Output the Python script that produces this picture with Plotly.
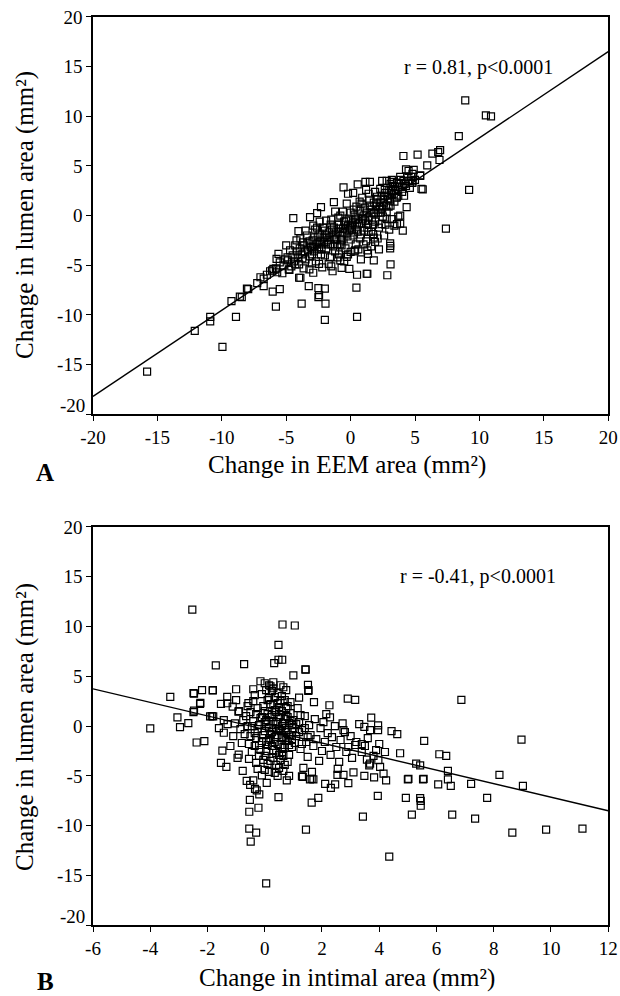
import plotly.graph_objects as go

# panel A: change in EEM area vs change in lumen area (mm2)
a_outliers = [
    (8.9, 11.6), (10.5, 10.1), (10.9, 10.0), (8.4, 8.0), (9.2, 2.6), (7.4, -1.3),
    (6.95, 6.6), (6.8, 6.4), (6.35, 6.25), (5.2, 6.15), (4.1, 6.0), (6.9, 5.6),
    (5.95, 5.05), (5.4, 4.05), (4.8, 3.45), (5.5, 2.7), (5.6, 2.65), (4.35, 0.85),
    (3.85, 0.0), (4.05, -1.5), (3.07, -2.8), (3.07, -3.05), (3.07, -3.3), (3.1, -4.9),
    (2.85, -6.0), (1.25, -5.85), (0.5, -5.95), (0.45, -7.25), (0.5, -10.2), (-2.0, -10.5),
    (-1.95, -8.85), (-2.45, -8.0), (-2.5, -8.2), (-2.5, -7.3), (-2.0, -7.35), (-3.25, -7.1),
    (-3.8, -8.85), (-5.8, -9.15), (-6.05, -7.65), (-5.5, -7.4), (-8.9, -10.2), (-9.95, -13.2),
    (-10.9, -10.2), (-10.9, -10.65), (-12.1, -11.6), (-15.8, -15.7), (-9.25, -8.6), (-8.45, -8.2),
    (-7.95, -7.4), (-7.25, -6.8), (-6.75, -7.1), (-6.75, -6.35), (-6.5, -5.95), (-6.25, -5.6),
    (-4.0, -6.25), (-2.9, -5.75), (-4.75, -5.45), (-5.7, -5.7), (-4.45, -0.25), (-3.15, -0.15),
    (-2.6, 0.25), (-2.3, 0.85), (-1.3, 1.35), (-0.55, 2.85), (-0.2, 2.2), (0.55, 3.15),
    (1.15, 3.4), (1.5, 3.4), (2.45, 3.5), (3.2, 3.6), (3.6, 1.85), (1.8, -4.5),
    (1.35, -3.85), (1.3, -5.85), (-0.1, -5.35), (-0.7, -5.25), (-1.5, -5.1), (-2.45, -4.85),
    (-3.9, -6.25), (-3.65, -5.3), (-4.05, -1.55), (-4.2, -2.5), (-5.6, -3.85), (-5.75, -4.35),
    (-4.85, -4.5), (-7.0, -6.2), (-8.05, -7.35), (-8.6, -8.15), (-6.0, -5.35), (-0.8, -4.5),
    (-1.7, -4.85), (-0.3, -4.15), (0.0, -3.65), (0.35, -3.5), (-0.7, -3.0), (1.9, -2.65),
    (1.75, -1.85), (1.4, -1.65), (2.4, -0.85), (2.8, -0.35), (3.2, -0.35), (3.6, -0.85),
    (4.8, 3.3), (4.3, 4.65), (5.4, 4.0), (3.7, -0.1), (3.85, -0.8),
]
a_core = [
    (-5.2, -5.0), (-4.9, -4.2), (-4.6, -5.1), (-4.4, -4.6), (-4.2, -3.6), (-4.0, -4.9),
    (-3.8, -3.9), (-3.6, -3.0), (-3.5, -4.4), (-3.3, -3.5), (-3.2, -2.6), (-3.0, -3.9),
    (-2.9, -3.1), (-2.8, -2.2), (-2.7, -4.6), (-2.6, -3.4), (-2.5, -2.7), (-2.4, -1.8),
    (-2.3, -3.9), (-2.2, -2.9), (-2.1, -2.2), (-2.0, -1.5), (-1.9, -3.4), (-1.8, -2.5),
    (-1.7, -1.7), (-1.6, -4.2), (-1.5, -2.9), (-1.4, -2.0), (-1.3, -1.2), (-1.2, -3.6),
    (-1.1, -2.4), (-1.0, -1.6), (-0.9, -0.9), (-0.8, -2.9), (-0.7, -2.0), (-0.6, -1.3),
    (-0.5, -0.6), (-0.4, -3.3), (-0.3, -1.8), (-0.2, -1.0), (-0.1, -0.3), (0.0, -2.4),
    (0.1, -1.4), (0.2, -0.7), (0.3, 0.1), (0.4, -2.9), (0.5, -1.1), (0.6, -0.3),
    (0.7, 0.5), (0.8, -1.9), (0.9, -0.8), (1.0, 0.0), (1.1, 0.8), (1.2, -2.6),
    (1.3, -1.2), (1.4, -0.2), (1.5, 1.0), (1.6, -1.6), (1.7, 0.3), (1.8, 1.3),
    (1.9, -0.6), (2.0, 0.6), (2.1, 1.6), (2.2, -1.2), (2.3, 0.9), (2.4, 2.0),
    (2.5, -0.1), (2.6, 1.3), (2.7, 2.3), (2.8, 0.4), (2.9, 1.7), (3.0, 2.6),
    (3.1, 1.0), (3.2, 2.1), (3.3, 3.0), (3.4, 1.4), (3.5, 2.5), (3.6, 3.3),
    (3.7, 2.0), (3.8, 2.9), (3.9, 3.6), (4.0, 2.4), (4.2, 3.2), (4.4, 3.9),
    (4.6, 2.8), (4.8, 4.2), (5.0, 3.6),
    (-4.7, -3.5), (-4.1, -4.2), (-3.7, -2.7), (-3.4, -2.0), (-3.1, -3.2), (-2.75, -1.4),
    (-2.45, -3.2), (-2.15, -1.2), (-1.85, -2.0), (-1.55, -0.9), (-1.25, -2.4), (-0.95, -0.2),
    (-0.65, -2.4), (-0.35, -0.5), (-0.05, -1.2), (0.25, 0.6), (0.55, -1.6), (0.85, 1.2),
    (1.15, -0.5), (1.45, 1.6), (1.75, -0.9), (2.05, 1.9), (2.35, 0.3), (2.65, 2.6),
    (2.95, 0.9), (3.25, 3.4), (3.55, 1.8), (3.85, 3.9), (4.15, 2.0), (4.5, 4.5),
    (4.9, 4.6), (-0.6, 0.4), (-1.9, -0.5), (0.3, -3.6), (1.6, -3.1), (-0.9, -3.9),
    (2.1, -2.3), (0.9, 1.8), (1.9, 2.4), (-2.9, -1.0), (-3.9, -2.3), (-5.5, -4.7),
    (-5.8, -5.3), (-5.0, -3.0), (-3.2, -5.4), (-2.2, -5.2), (-1.4, -5.6), (-0.5, -4.6),
    (0.8, -4.4), (1.3, -3.5), (2.6, -2.0), (3.0, -1.4), (0.2, 2.3), (-1.2, 0.4),
    (-0.3, 1.2), (1.2, 2.6), (2.8, 3.5), (-2.4, -0.6), (-4.3, -3.0), (-5.3, -5.8),
    (-6.1, -5.5),
    (-4.5, -4.0), (-4.3, -4.9), (-3.95, -3.3), (-3.75, -4.3), (-3.55, -3.6), (-3.35, -2.8),
    (-3.15, -4.1), (-2.95, -2.5), (-2.85, -3.6), (-2.65, -2.9), (-2.55, -2.1), (-2.35, -2.6),
    (-2.25, -3.4), (-2.05, -2.7), (-1.95, -1.9), (-1.75, -2.9), (-1.65, -2.2), (-1.45, -1.4),
    (-1.35, -3.1), (-1.15, -1.8), (-1.05, -2.9), (-0.85, -1.3), (-0.75, -2.5), (-0.55, -1.7),
    (-0.45, -0.9), (-0.25, -2.1), (-0.15, -1.5), (0.05, -0.9), (0.15, -2.0), (0.35, -0.4),
    (0.45, -1.4), (0.65, -0.8), (0.75, -2.3), (0.95, -0.3), (1.05, -1.5), (1.25, 0.3),
    (1.35, -0.8), (1.55, 0.6), (1.65, -0.4), (1.85, 0.2), (1.95, 1.0), (2.15, 0.3),
    (2.25, 1.3), (2.45, 0.7), (2.55, 1.7), (2.75, 1.0), (2.85, 2.0), (3.05, 1.5),
    (3.15, 2.5), (3.35, 2.2), (3.45, 2.9), (3.65, 2.6), (3.75, 3.3), (3.95, 2.9),
    (4.1, 3.5), (4.3, 3.0), (4.55, 3.5), (4.7, 3.9), (-5.1, -4.4), (-4.8, -5.4),
    (-1.0, -4.2), (-0.2, -3.9), (0.6, -3.4), (1.0, -2.9), (-2.0, -4.0), (-3.0, -4.8),
    (0.0, 0.3), (-1.5, -0.4), (0.7, 1.4), (1.4, 2.2), (2.3, 2.7), (3.1, 3.2),
    (-2.6, -1.2), (-3.5, -1.5), (-0.8, 0.0), (0.45, 0.9), (1.8, -2.2), (2.2, -3.4),
    (3.4, -1.0), (2.7, -0.9),
]
a_fit_x = [-20, 20]
a_fit_y = [-18.2, 16.5]

# panel B: change in intimal area vs change in lumen area (mm2)
b_outliers = [
    (-2.53, 11.7), (-1.71, 6.1), (-0.72, 6.23), (-4.0, -0.24), (-3.3, 2.93), (-3.05, 0.87),
    (-2.96, -0.1), (-2.67, 0.3), (-2.47, 3.26), (-2.19, 3.6), (-2.25, 2.32), (-2.47, 1.55),
    (-1.81, 3.6), (-1.0, 3.7), (-1.31, 2.93), (-1.53, 2.22), (-1.31, 2.29), (-1.12, 1.95),
    (-1.91, 0.98), (-1.8, 0.98), (-1.43, 0.6), (-1.43, -0.67), (-2.38, -1.65), (-2.11, -1.52),
    (-1.48, -2.46), (-1.53, -3.7), (-1.34, -4.1), (-0.91, -2.86), (-0.77, -4.5), (-0.63, -5.5),
    (-0.51, -5.9), (-0.52, -7.4), (-0.54, -8.6), (-0.54, -10.3), (-0.3, -10.7), (-0.49, -11.6),
    (0.05, -15.8), (-0.22, -8.2), (-0.28, -6.46), (-0.19, -6.86), (-0.4, -5.45), (-0.1, -4.95),
    (0.07, -5.7), (-1.04, 0.27), (0.62, 10.2), (1.05, 10.1), (0.48, 8.15), (0.33, 6.33),
    (0.48, 6.66), (0.61, 6.66), (1.0, 5.1), (1.42, 5.7), (1.51, 4.14), (1.53, 3.6),
    (1.2, 2.86), (1.72, 2.4), (-1.82, 3.57), (-2.49, 3.3), (-2.26, 2.22), (-2.49, 1.41),
    (-1.85, 1.0), (-0.92, 1.45), (-0.57, 2.3), (6.87, 2.63), (8.97, -1.35), (8.2, -4.9),
    (9.02, -6.0), (7.77, -7.2), (7.21, -5.8), (6.4, -4.5), (6.4, -5.35), (6.5, -6.0),
    (6.1, -2.83), (6.34, -3.0), (6.06, -5.86), (5.57, -1.48), (5.53, -5.35), (5.29, -3.77),
    (5.43, -3.94), (5.0, -5.35), (4.73, -2.73), (4.93, -7.2), (5.43, -7.24), (4.43, -0.5),
    (4.63, -0.8), (3.96, 0.07), (3.96, -0.4), (3.72, 0.84), (3.48, -0.07), (3.68, -0.4),
    (2.9, 2.76), (3.16, 2.63), (1.43, 5.66), (1.52, 3.54), (2.26, 2.09), (2.28, 0.88),
    (2.72, 0.27), (2.75, -0.4), (3.39, -1.82), (3.89, -2.42), (3.97, -3.43), (4.03, -4.1),
    (4.15, -4.78), (4.24, -5.45), (3.68, -3.77), (3.48, -5.0), (3.82, -5.15), (3.1, -4.65),
    (2.92, -5.72), (2.54, -4.9), (2.75, -4.9), (2.11, -5.8), (2.31, -6.2), (2.46, -5.86),
    (3.95, -7.0), (1.7, -5.35), (1.58, -5.35), (1.33, -5.1), (1.87, -7.2), (3.39, -2.6),
    (3.57, -3.36), (3.65, -3.94), (2.92, -2.1), (3.16, -1.9), (5.14, -8.9), (5.45, -7.5),
    (5.45, -8.0), (3.43, -9.1), (1.64, -7.68), (0.48, -7.14), (-0.34, -6.3), (0.77, -5.45),
    (1.3, -5.05), (1.64, -5.3), (5.02, -5.3), (5.55, -5.3), (4.35, -13.1), (1.44, -10.4),
    (6.55, -8.9), (7.35, -9.3), (8.65, -10.7), (9.83, -10.4), (11.1, -10.3),
]
b_core = [
    (-0.5, -1.0), (-0.4, 0.5), (-0.35, -2.0), (-0.3, 1.2), (-0.25, -0.3), (-0.2, -3.0),
    (-0.15, 0.8), (-0.1, -1.5), (-0.05, 2.0), (0.0, -0.5), (0.0, 1.5), (0.05, -2.5),
    (0.1, 0.2), (0.1, -3.8), (0.15, -1.2), (0.15, 2.8), (0.2, -0.8), (0.2, 0.9),
    (0.25, -2.0), (0.25, 3.5), (0.3, -0.2), (0.3, -3.2), (0.35, 1.6), (0.35, -1.6),
    (0.4, 0.4), (0.4, -2.7), (0.45, 2.3), (0.45, -0.9), (0.5, -0.3), (0.5, -4.2),
    (0.55, 1.1), (0.55, -1.9), (0.6, 0.0), (0.6, 3.0), (0.65, -1.2), (0.65, -3.0),
    (0.7, 0.7), (0.7, -2.2), (0.75, 1.8), (0.75, -0.6), (0.8, -1.5), (0.8, -3.6),
    (0.85, 0.3), (0.9, -0.9), (0.9, 1.3), (-0.45, -2.6), (-0.4, 2.5), (-0.3, -1.2),
    (-0.2, 0.1), (-0.1, 3.2), (-0.05, -3.4), (0.05, 0.6), (0.1, -1.9), (0.2, 4.0),
    (0.3, 2.1), (0.4, -3.9), (0.5, 1.9), (0.6, -2.6), (0.7, 2.6), (0.8, 0.9),
    (-0.6, 0.0), (-0.55, -1.8), (-0.65, 1.0), (0.95, -2.1), (1.0, -0.2), (1.0, 0.6),
    (-0.7, -0.8), (0.0, 4.3), (0.3, 4.4), (0.15, -4.6), (0.45, -5.0), (-0.25, -4.3),
    (0.65, -4.5), (0.85, -5.0), (0.55, 4.1), (-0.15, 4.5), (0.05, 3.6), (-0.35, 3.1),
    (0.9, 2.4), (0.75, 3.6),
    (1.1, -1.0), (1.2, 0.4), (1.25, -2.3), (1.3, -0.4), (1.4, 1.0), (1.45, -1.6),
    (1.5, -3.1), (1.55, 0.1), (1.6, -0.9), (1.7, -2.0), (1.75, 0.7), (1.8, -1.3),
    (1.9, -3.5), (1.95, -0.2), (2.0, -2.5), (2.05, 0.4), (2.1, -1.6), (2.2, -0.7),
    (2.3, -2.9), (2.35, -1.1), (2.45, 0.0), (2.5, -2.1), (2.6, -3.6), (2.65, -1.4),
    (2.8, -0.6), (2.85, -2.6), (3.0, -1.0), (3.05, -3.2), (3.2, -1.6), (3.3, 0.2),
    (3.5, -2.0), (3.6, -1.2), (3.8, -3.0), (4.0, -1.8), (4.2, -2.6), (1.15, 1.8),
    (1.35, -4.2), (2.15, 1.2), (2.55, -4.3), (1.65, -4.6),
    (-1.3, 0.2), (-1.1, -1.0), (-0.9, 1.5), (-0.85, -0.3), (-0.8, -1.7), (-0.75, 0.6),
    (-1.2, -2.0), (-1.0, 2.6), (-0.95, -3.2), (-1.6, -0.2),
    (-0.45, 0.0), (-0.35, -0.7), (-0.25, 1.8), (-0.15, -2.4), (-0.05, -0.9), (0.0, 0.4),
    (0.05, -1.6), (0.1, 1.2), (0.15, -0.2), (0.2, -1.4), (0.2, 2.2), (0.25, -0.6),
    (0.25, 1.1), (0.3, -2.4), (0.3, 0.5), (0.35, -1.1), (0.35, 2.9), (0.4, -0.3),
    (0.4, 1.4), (0.45, -1.8), (0.45, 0.2), (0.5, -2.9), (0.5, 0.9), (0.55, -0.5),
    (0.55, -3.4), (0.6, 1.5), (0.6, -1.1), (0.65, 0.3), (0.65, -2.1), (0.7, -0.2),
    (0.7, -3.9), (0.75, 1.0), (0.75, -1.4), (0.8, -0.4), (0.8, 2.0), (0.85, -1.9),
    (0.85, -0.9), (0.9, 0.5), (0.95, -1.3), (-0.5, 1.4), (-0.55, -3.3), (-0.6, 2.0),
    (-0.2, -1.9), (-0.1, 0.9), (0.0, -3.0), (0.1, 2.6), (0.2, -3.5), (0.3, 3.8),
    (0.45, 3.3), (0.55, 2.5), (0.65, 3.9), (0.85, -2.9), (0.95, 0.1), (1.05, -1.7),
    (1.1, 0.2), (1.2, -0.6), (1.25, 1.1), (1.3, -1.8), (1.4, -0.2), (1.5, -1.1),
    (0.0, -4.4), (0.35, -4.7), (-0.3, -3.7), (-0.4, 3.7), (0.15, 4.1),
]
b_fit_x = [-6, 12]
b_fit_y = [3.74, -8.5]

a_xticks = [-20, -15, -10, -5, 0, 5, 10, 15, 20]
b_xticks = [-6, -4, -2, 0, 2, 4, 6, 8, 10, 12]
y_ticks = [-20, -15, -10, -5, 0, 5, 10, 15, 20]

a_x = [p[0] for p in a_outliers + a_core]
a_y = [p[1] for p in a_outliers + a_core]
b_x = [p[0] for p in b_outliers + b_core]
b_y = [p[1] for p in b_outliers + b_core]

FONT = "Liberation Serif, Times New Roman, serif"
marker = dict(symbol="square-open", size=7, color="black", line=dict(width=1.2))

fig = go.Figure()
fig.add_trace(go.Scatter(x=a_x, y=a_y, mode="markers", marker=marker, xaxis="x", yaxis="y"))
fig.add_trace(go.Scatter(x=a_fit_x, y=a_fit_y, mode="lines",
                         line=dict(color="black", width=1.4), xaxis="x", yaxis="y"))
fig.add_trace(go.Scatter(x=b_x, y=b_y, mode="markers", marker=marker, xaxis="x2", yaxis="y2"))
fig.add_trace(go.Scatter(x=b_fit_x, y=b_fit_y, mode="lines",
                         line=dict(color="black", width=1.4), xaxis="x2", yaxis="y2"))

axis_style = dict(
    showline=True, mirror=True, linecolor="black", linewidth=1.5,
    ticks="outside", ticklen=5, tickwidth=1.3, tickcolor="black",
    showgrid=False, zeroline=False, automargin=False,
    tickfont=dict(family=FONT, size=19, color="black"),
)


def labels(vals, hide_first=False):
    out = [str(v) for v in vals]
    if hide_first:
        out[0] = ""
    return out


fig.update_layout(
    width=620, height=996,
    margin=dict(l=0, r=0, t=0, b=0),
    paper_bgcolor="white", plot_bgcolor="white",
    showlegend=False,
    xaxis=dict(domain=[0.15, 0.981], range=[-20, 20], anchor="y",
               tickvals=a_xticks, ticktext=labels(a_xticks), **axis_style),
    yaxis=dict(domain=[0.584, 0.983], range=[-20, 20], anchor="x",
               tickvals=y_ticks, ticktext=labels(y_ticks, True), **axis_style),
    xaxis2=dict(domain=[0.15, 0.981], range=[-6, 12], anchor="y2",
                tickvals=b_xticks, ticktext=labels(b_xticks), **axis_style),
    yaxis2=dict(domain=[0.071, 0.471], range=[-20, 20], anchor="x2",
                tickvals=y_ticks, ticktext=labels(y_ticks, True), **axis_style),
)

# the lowest y label sits a little above its tick, clear of the x axis
for yref in ["y", "y2"]:
    fig.add_annotation(xref="paper", yref=yref, x=0.15, y=-20, xanchor="right",
                       yanchor="middle", xshift=-6, yshift=9, showarrow=False,
                       text="-20", font=dict(family=FONT, size=19, color="black"))

title_font = dict(family=FONT, size=25, color="black")
notes = [
    dict(x=0.04, y=0.784, text="Change in lumen area (mm²)", textangle=-90),
    dict(x=0.04, y=0.27, text="Change in lumen area (mm²)", textangle=-90),
    dict(x=0.56, y=0.533, text="Change in EEM area (mm²)"),
    dict(x=0.56, y=0.018, text="Change in intimal area (mm²)"),
    dict(x=0.073, y=0.526, text="<b>A</b>"),
    dict(x=0.073, y=0.015, text="<b>B</b>"),
]
for n in notes:
    fig.add_annotation(xref="paper", yref="paper", showarrow=False,
                       xanchor="center", yanchor="middle", font=title_font, **n)

r_font = dict(family=FONT, size=20, color="black")
fig.add_annotation(xref="paper", yref="paper", x=0.771, y=0.932, showarrow=False,
                   xanchor="center", yanchor="middle", text="r = 0.81, p<0.0001", font=r_font)
fig.add_annotation(xref="paper", yref="paper", x=0.771, y=0.421, showarrow=False,
                   xanchor="center", yanchor="middle", text="r = -0.41, p<0.0001", font=r_font)

# page body margin off, so the figure fills the window from its top-left corner
fig.write_html("out.html", config={"displayModeBar": False},
               post_script="document.body.style.margin = '0';")
